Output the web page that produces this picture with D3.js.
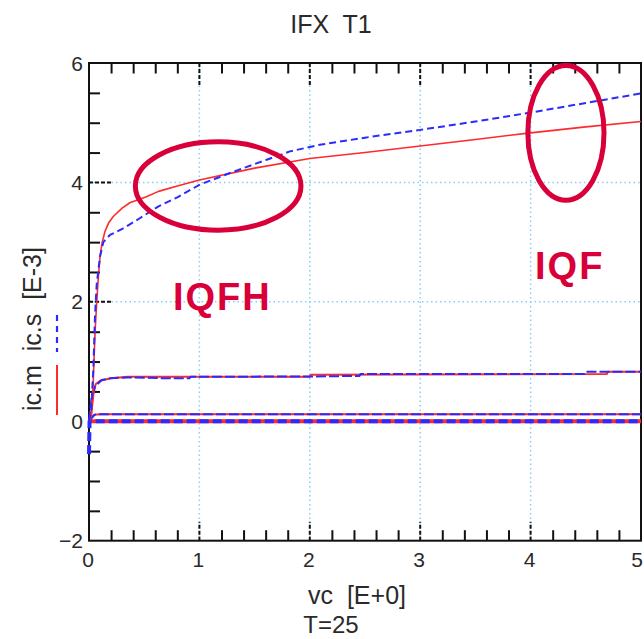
<!DOCTYPE html>
<html><head><meta charset="utf-8">
<script src="https://cdn.jsdelivr.net/npm/d3@7"></script>
<style>body{margin:0;background:#fff}svg{display:block}text{font-family:"Liberation Sans",Arial,sans-serif}</style>
</head><body><svg id="c" width="644" height="639"></svg>
<script>
// ---------- data ----------
const title = "IFX  T1";
const xLabel = "vc  [E+0]";
const yLabel = "ic.m  ic.s  [E-3]";
const footer = "T=25";
const xMajorTicks = [0, 1, 2, 3, 4, 5];
const yMajorTicks = [-2, 0, 2, 4, 6];
// ic.m (measured, red solid), [vc, ic]
const icmHigh = [[0,0],[0.02,0.1],[0.035,0.5],[0.045,1.0],[0.055,1.5],[0.07,2.0],[0.084,2.4],[0.1,2.76],[0.12,3.0],[0.145,3.18],[0.18,3.33],[0.22,3.43],[0.3,3.57],[0.37,3.66],[0.52,3.76],[0.63,3.85],[0.8,3.94],[1.0,4.04],[1.5,4.24],[2.0,4.40],[2.5,4.50],[3.0,4.61],[3.5,4.72],[4.0,4.83],[4.5,4.93],[5.0,5.02]];
const icmMid = [[0,0],[0.02,0.1],[0.04,0.45],[0.06,0.62],[0.1,0.68],[0.2,0.72],[0.35,0.745],[2.0,0.745],[2.01,0.78],[4.69,0.79],[4.7,0.83],[5.0,0.83]];
const icmLow = [[0,0],[0.02,0.05],[0.05,0.11],[0.1,0.117],[5.0,0.117]];
const icmZero = [[0,0],[5.0,0]];
// ic.s (simulated, blue dashed)
const icsHigh = [[0,0],[0.02,0.2],[0.04,0.9],[0.054,1.75],[0.07,2.3],[0.1,2.76],[0.13,3.0],[0.19,3.12],[0.31,3.23],[0.46,3.40],[0.63,3.6],[0.8,3.75],[1.0,3.96],[1.31,4.18],[1.61,4.38],[1.82,4.52],[2.09,4.63],[2.5,4.75],[3.0,4.88],[3.5,5.02],[4.0,5.17],[4.5,5.33],[5.0,5.49]];
const icsMid = [[0,0],[0.024,0.41],[0.054,0.58],[0.115,0.69],[0.19,0.72],[0.35,0.735],[0.7,0.72],[0.91,0.72],[0.92,0.745],[2.0,0.75],[2.45,0.76],[2.46,0.79],[4.49,0.79],[4.5,0.83],[5.0,0.83]];
const icsLow = [[0,0],[0.02,0.05],[0.05,0.11],[0.1,0.117],[5.0,0.117]];
const icsZero = [[0,-0.55],[0.005,0],[5.0,0]];
const notes = [{text:"IQFH", vc:0.76, ic:1.86}, {text:"IQF", vc:4.04, ic:2.38}];
const ellipses = [{vc:1.17, ic:3.94, rvc:0.75, ric:0.74}, {vc:4.32, ic:4.83, rvc:0.345, ric:1.13}];

// ---------- drawing ----------
const svg = d3.select("#c");
const x = d3.scaleLinear().domain([0,5]).range([89, 641]);
const y = d3.scaleLinear().domain([-2,6]).range([540.7, 63]);
const X0 = x.range()[0], X1 = x.range()[1], Y0 = y.range()[0], Y1 = y.range()[1];
const gridCol = "#87cefa", red = "#ff2a2a", blue = "#2b2bff", annot = "#d9003a", txt = "#2a2a2a";

// grid
const g = svg.append("g");
g.selectAll(".gx").data(xMajorTicks.filter(d => d > 0 && d < 5)).join("line")
  .attr("x1", d => x(d)).attr("x2", d => x(d)).attr("y1", Y1).attr("y2", Y0)
  .attr("stroke", gridCol).attr("stroke-width", 1.5).attr("stroke-dasharray", "1.5,3");
g.selectAll(".gy").data(yMajorTicks.filter(d => d > -2 && d < 6)).join("line")
  .attr("x1", X0).attr("x2", X1).attr("y1", d => y(d)).attr("y2", d => y(d))
  .attr("stroke", gridCol).attr("stroke-width", 1.5).attr("stroke-dasharray", "1.5,3");

// axes via d3 axis generators (ticks inward)
const xMinor = d3.range(0.2, 5, 0.2).filter(d => Math.abs(d - Math.round(d)) > 1e-6);
const yMinor = d3.range(-1.5, 6, 0.5).filter(d => Math.abs(d/2 - Math.round(d/2)) > 1e-6);
function styleAxis(sel){ sel.select(".domain").remove(); sel.selectAll("line").attr("stroke","#111").attr("stroke-width",2); }
svg.append("g").attr("transform", `translate(0,${Y0})`)
  .call(d3.axisBottom(x).tickValues(xMinor).tickSize(-10.5).tickFormat("")).call(styleAxis);
svg.append("g").attr("transform", `translate(0,${Y1})`)
  .call(d3.axisTop(x).tickValues(xMinor).tickSize(-10.5).tickFormat("")).call(styleAxis);
svg.append("g").attr("transform", `translate(${X0},0)`)
  .call(d3.axisLeft(y).tickValues(yMinor).tickSize(-11).tickFormat("")).call(styleAxis);
// major dashed ticks
const majX = xMajorTicks.filter(d => d > 0 && d < 5);
svg.append("g").selectAll("line").data(majX).join("line")
  .attr("x1", d => x(d)).attr("x2", d => x(d)).attr("y1", Y0).attr("y2", Y0 - 19)
  .attr("stroke", "#111").attr("stroke-width", 2).attr("stroke-dasharray", "4,2");
svg.append("g").selectAll("line").data(majX).join("line")
  .attr("x1", d => x(d)).attr("x2", d => x(d)).attr("y1", Y1).attr("y2", Y1 + 22)
  .attr("stroke", "#111").attr("stroke-width", 2).attr("stroke-dasharray", "4,2");
svg.append("g").selectAll("line").data(yMajorTicks.filter(d => d > -2 && d < 6)).join("line")
  .attr("x1", X0).attr("x2", X0 + 24).attr("y1", d => y(d)).attr("y2", d => y(d))
  .attr("stroke", "#111").attr("stroke-width", 2).attr("stroke-dasharray", "4,2");
// frame
svg.append("rect").attr("x", X0).attr("y", Y1).attr("width", X1 - X0).attr("height", Y0 - Y1)
  .attr("fill", "none").attr("stroke", "#111").attr("stroke-width", 2);

// tick labels
svg.append("g").selectAll("text").data(xMajorTicks).join("text")
  .attr("x", d => Math.min(x(d) - 1, 637)).attr("y", 567).attr("text-anchor", "middle")
  .attr("font-size", 21).attr("fill", txt).text(d => d3.format("d")(d));
svg.append("g").selectAll("text").data(yMajorTicks).join("text")
  .attr("x", 83).attr("y", d => y(d)).attr("dy", "0.36em").attr("text-anchor", "end")
  .attr("font-size", 21).attr("fill", txt).text(d => d3.format("d")(d));

// curves
const line = d3.line().x(d => x(d[0])).y(d => y(d[1]));
const curves = svg.append("g");
function path(data, color, w, dash){
  curves.append("path").attr("d", line(data)).attr("fill","none").attr("stroke",color)
    .attr("stroke-width", w).attr("stroke-dasharray", dash || null).attr("stroke-linejoin","round");
}
path(icmZero, red, 4);
path(icsZero, blue, 4, "9,4");
path(icmLow, red, 2);
path(icsLow, blue, 2, "10,3");
path(icmMid, red, 2);
path(icsMid, blue, 2, "10,3");
path(icmHigh, red, 1.6);
path(icsHigh, blue, 2, "7,4");

// annotations
svg.append("g").selectAll("ellipse").data(ellipses).join("ellipse")
  .attr("cx", d => x(d.vc)).attr("cy", d => y(d.ic))
  .attr("rx", d => x(d.rvc) - x(0)).attr("ry", d => y(0) - y(d.ric))
  .attr("fill", "none").attr("stroke", annot).attr("stroke-width", 5);
svg.append("g").selectAll("text").data(notes).join("text")
  .attr("x", d => x(d.vc)).attr("y", d => y(d.ic))
  .attr("font-size", 38).attr("font-weight", "bold").attr("letter-spacing", 2)
  .attr("fill", annot).text(d => d.text);

// titles
svg.append("text").attr("x", 331).attr("y", 33).attr("text-anchor","middle")
  .attr("font-size", 25).attr("fill", txt).style("white-space","pre").text(title);
svg.append("text").attr("x", 357).attr("y", 604).attr("text-anchor","middle")
  .attr("font-size", 25).attr("fill", txt).style("white-space","pre").text(xLabel);
svg.append("text").attr("x", 331).attr("y", 633).attr("text-anchor","middle")
  .attr("font-size", 24).attr("fill", txt).text(footer);
svg.append("text").attr("transform", "translate(41,329) rotate(-90)").attr("text-anchor","middle")
  .attr("font-size", 25).attr("fill", txt).style("white-space","pre").text(yLabel);
// y-label legend glyphs
svg.append("line").attr("x1",57).attr("x2",57).attr("y1",365).attr("y2",415).attr("stroke",red).attr("stroke-width",2);
svg.append("line").attr("x1",57).attr("x2",57).attr("y1",315).attr("y2",352).attr("stroke",blue).attr("stroke-width",2.2).attr("stroke-dasharray","6,5");
</script></body></html>
